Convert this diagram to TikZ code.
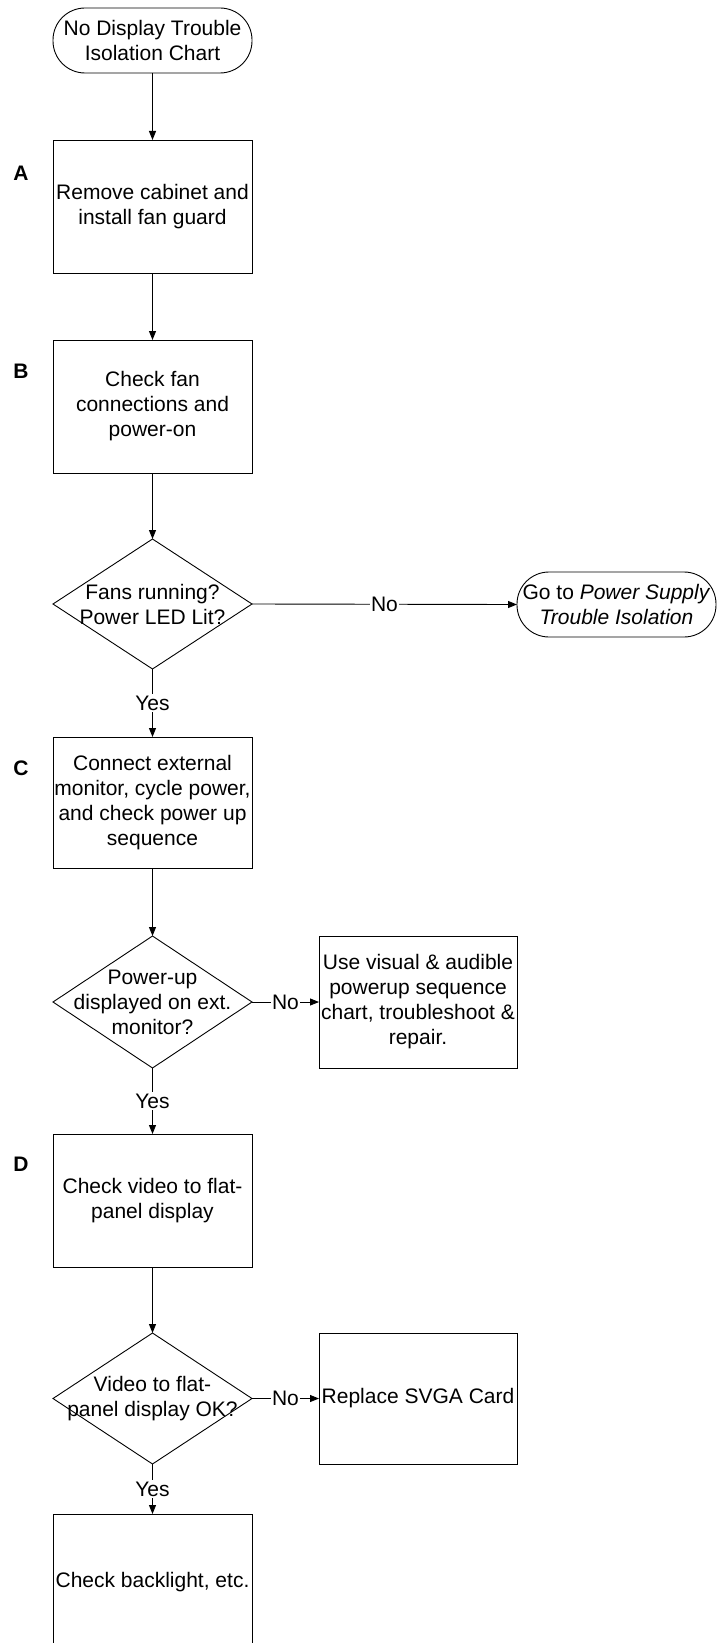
\documentclass[tikz,border=0pt]{standalone}
\usepackage{fontspec}
\setmainfont{Liberation Sans}
\usetikzlibrary{arrows.meta,shapes.geometric}
\begin{document}
\begin{tikzpicture}[x=1pt,y=-1pt,
  every node/.style={font=\fontsize{21}{25}\selectfont},
  base/.style={draw, line width=0.9pt, inner sep=0pt, outer sep=0pt},
  procbox/.style={base, rectangle, minimum width=199pt, minimum height=133pt},
  termbox/.style={base, rectangle, rounded corners=32pt, minimum width=199pt, minimum height=65pt},
  decbox/.style={base, diamond, minimum width=199pt, minimum height=131pt},
  steplabel/.style={font=\fontsize{21}{25}\selectfont\bfseries},
  flow/.style={line width=0.9pt, -{Triangle[length=9pt,width=7pt]}},
  edgelabel/.style={fill=white, inner sep=1.5pt}
]
\useasboundingbox (0,0) rectangle (718,1643);

\node[termbox, label={[align=center]center:No Display Trouble\\Isolation Chart}] (start) at (152.5,40.5) {};
\node[procbox, label={[align=center]center:Remove cabinet and\\install fan guard}] (a) at (152.5,206.5) {};
\node[procbox, label={[align=center]center:Check fan\\connections and\\power-on}] (b) at (152.5,406.5) {};
\node[decbox, minimum height=130pt, label={[align=center]center:Fans running?\\Power LED Lit?}] (d1) at (152.5,604) {};
\node[termbox, label={[align=center]center:Go to \textit{Power Supply}\\\textit{Trouble Isolation}}] (t2) at (616.5,604.5) {};
\node[procbox, minimum height=131pt, label={[align=center]center:Connect external\\monitor, cycle power,\\and check power up\\sequence}] (c) at (152.5,802.5) {};
\node[decbox, minimum height=132pt, label={[align=center]center:Power-up\\displayed on ext.\\monitor?}] (d2) at (152.5,1002) {};
\node[procbox, minimum width=198pt, minimum height=132pt, label={[align=center]center:Use visual \& audible\\powerup sequence\\chart, troubleshoot \&\\repair.}] (u) at (418,1002) {};
\node[procbox, label={[align=center]center:Check video to flat-\\panel display}] (d) at (152.5,1200.5) {};
\node[decbox, label={[align=center]center:Video to flat-\\panel display OK?}] (d3) at (152.5,1398.5) {};
\node[procbox, minimum width=198pt, minimum height=131pt, label={[align=center]center:Replace SVGA Card}] (r) at (418,1398.5) {};
\node[procbox, minimum height=136pt, label={[align=center]center:Check backlight, etc.}] (e) at (152.5,1582) {};

\node[steplabel] (la) at (21,173) {A};
\node[steplabel] (lb) at (21,371) {B};
\node[steplabel] (lc) at (21,768) {C};
\node[steplabel] (ld) at (21,1164) {D};

\draw[flow] (start.south) -- (a.north);
\draw[flow] (a.south) -- (b.north);
\draw[flow] (b.south) -- (d1.north);
\draw[flow] (d1.east) -- node[edgelabel]{No} (t2.west);
\draw[flow] (d1.south) -- node[edgelabel]{Yes} (c.north);
\draw[flow] (c.south) -- (d2.north);
\draw[flow] (d2.east) -- node[edgelabel]{No} (u.west);
\draw[flow] (d2.south) -- node[edgelabel]{Yes} (d.north);
\draw[flow] (d.south) -- (d3.north);
\draw[flow] (d3.east) -- node[edgelabel]{No} (r.west);
\draw[flow] (d3.south) -- node[edgelabel]{Yes} (e.north);
\end{tikzpicture}
\end{document}
